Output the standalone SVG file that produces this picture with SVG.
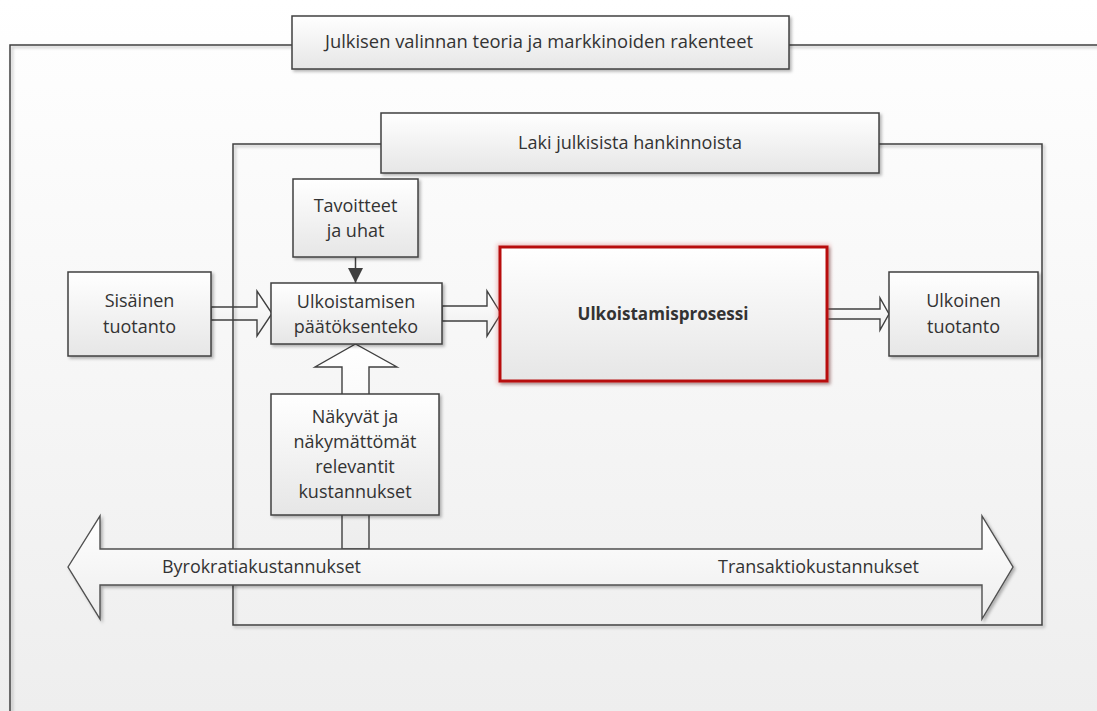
<svg xmlns="http://www.w3.org/2000/svg" width="1097" height="711" viewBox="0 0 1097 711">
<defs>
<linearGradient id="bg" x1="0" y1="0" x2="0" y2="1"><stop offset="0" stop-color="#ffffff"/><stop offset="1" stop-color="#eeeeee"/></linearGradient>
<linearGradient id="box" x1="0" y1="0" x2="0" y2="1"><stop offset="0" stop-color="#ffffff"/><stop offset="1" stop-color="#e6e6e6"/></linearGradient>
<linearGradient id="arr" x1="0" y1="0" x2="0" y2="1"><stop offset="0" stop-color="#ffffff"/><stop offset="1" stop-color="#ededed"/></linearGradient>
<filter id="sh" x="-10%" y="-10%" width="130%" height="140%"><feDropShadow dx="2" dy="2" stdDeviation="1.8" flood-color="#000" flood-opacity="0.28"/></filter>
<filter id="glow" x="-10%" y="-10%" width="120%" height="120%"><feGaussianBlur stdDeviation="2"/></filter>
<marker id="ah" viewBox="0 0 10 10" refX="10" refY="5" markerWidth="15" markerHeight="15" markerUnits="userSpaceOnUse" orient="auto"><path d="M0,0 L10,5 L0,10 Z" fill="#404040"/></marker>
</defs>
<style>
.bx{fill:url(#box);stroke:#404040;stroke-width:1.5;filter:url(#sh)}
.fr{fill:none;stroke:#404040;stroke-width:1.5;filter:url(#sh)}
.ba{fill:url(#arr);stroke:#404040;stroke-width:1.4;stroke-linejoin:miter}
.t{font-family:"Open Sans","Noto Sans","DejaVu Sans",sans-serif;font-size:18px;fill:#333;text-anchor:middle}
.b{font-weight:bold;font-size:17px}
</style>
<rect x="0" y="0" width="1097" height="711" fill="url(#bg)"/>

<g id="connectors">
<path class="ba" d="M211,307 H257 V291 L272,313.5 L257,336 V320 H211 Z"/>
<path class="ba" d="M442,306 H487 V291 L501,313.5 L487,336 V321 H442 Z"/>
<path class="ba" d="M827,309 H880 V298 L889,314 L880,330 V319 H827 Z"/>
<path class="ba" d="M342,549 V367 H315 L355.5,344 L397,367 H369 V549 Z"/>
<line x1="355.5" y1="257" x2="355.5" y2="283" stroke="#404040" stroke-width="1.5" marker-end="url(#ah)"/>
</g>

<g id="outer-frame">
<path class="fr" d="M10,711 V45 H1097"/>
</g>
<g id="inner-frame">
<rect class="fr" x="233" y="144" width="809" height="481"/>
</g>

<g id="title-outer">
<rect class="bx" x="292" y="16" width="497" height="53"/>
<text class="t" x="539" y="48" textLength="428" lengthAdjust="spacingAndGlyphs">Julkisen valinnan teoria ja markkinoiden rakenteet</text>
</g>
<g id="title-inner">
<rect class="bx" x="381" y="113" width="498" height="60"/>
<text class="t" x="630" y="149" textLength="224" lengthAdjust="spacingAndGlyphs">Laki julkisista hankinnoista</text>
</g>

<g id="sisainen">
<rect class="bx" x="68" y="272" width="143" height="84"/>
<text class="t" x="139.5" y="307">Sisäinen</text>
<text class="t" x="139.5" y="333">tuotanto</text>
</g>
<g id="tavoitteet">
<rect class="bx" x="293" y="179" width="125" height="78"/>
<text class="t" x="355.5" y="212">Tavoitteet</text>
<text class="t" x="355.5" y="237">ja uhat</text>
</g>
<g id="paatoksenteko">
<rect class="bx" x="271" y="283" width="171" height="61"/>
<text class="t" x="356" y="308">Ulkoistamisen</text>
<text class="t" x="356" y="333">päätöksenteko</text>
</g>
<g id="kustannukset">
<rect class="bx" x="271" y="394" width="168" height="121"/>
<text class="t" x="355" y="423">Näkyvät ja</text>
<text class="t" x="355" y="448">näkymättömät</text>
<text class="t" x="355" y="473">relevantit</text>
<text class="t" x="355" y="498">kustannukset</text>
</g>
<g id="prosessi">
<rect x="500" y="247" width="327" height="134" fill="none" stroke="#e07070" stroke-width="6" opacity="0.45" filter="url(#glow)"/>
<rect x="500" y="247" width="327" height="134" fill="url(#box)" stroke="#b81010" stroke-width="3" filter="url(#sh)"/>
<text class="t b" x="663" y="320" textLength="171" lengthAdjust="spacingAndGlyphs">Ulkoistamisprosessi</text>
</g>
<g id="ulkoinen">
<rect class="bx" x="889" y="272" width="149" height="84"/>
<text class="t" x="963.5" y="307">Ulkoinen</text>
<text class="t" x="963.5" y="333">tuotanto</text>
</g>

<g id="cost-arrow">
<path d="M68,567 L100,516 V549 H982 V516 L1013,567 L982,619 V585 H100 V619 Z" fill="url(#arr)" stroke="#505050" stroke-width="1.4" filter="url(#sh)"/>
<text class="t" x="261.5" y="573" textLength="199" lengthAdjust="spacingAndGlyphs">Byrokratiakustannukset</text>
<text class="t" x="818.5" y="573" textLength="201" lengthAdjust="spacingAndGlyphs">Transaktiokustannukset</text>
</g>
</svg>
